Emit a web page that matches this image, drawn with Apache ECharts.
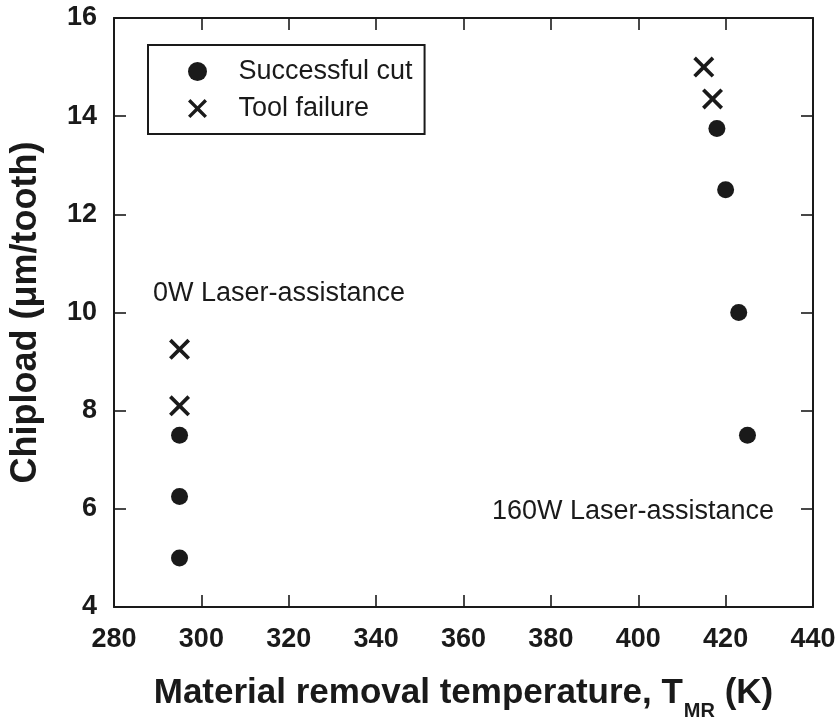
<!DOCTYPE html>
<html>
<head>
<meta charset="utf-8">
<script src="https://cdn.jsdelivr.net/npm/echarts@6/dist/echarts.min.js"></script>
<style>
  html, body { margin: 0; padding: 0; background: #fff; }
  #chart { width: 839px; height: 726px; }
</style>
</head>
<body>
<div id="chart"></div>
<script>
// ---- Data ----
const xTicks = [280, 300, 320, 340, 360, 380, 400, 420, 440];
const yTicks = [4, 6, 8, 10, 12, 14, 16];

// 0W laser assistance
const cut0W_T = [295, 295, 295];
const cut0W_C = [5, 6.25, 7.5];
const fail0W_T = [295, 295];
const fail0W_C = [8.1, 9.25];

// 160W laser assistance
const cut160W_T = [425, 423, 420, 418];
const cut160W_C = [7.5, 10, 12.5, 13.75];
const fail160W_T = [417, 415];
const fail160W_C = [14.35, 15];

const seriesNames = ['Successful cut', 'Tool failure'];
const annotations = ['0W Laser-assistance', '160W Laser-assistance'];

// ---- Build ----
const pair = (xs, ys) => xs.map((x, i) => [x, ys[i]]);
const cutData = pair(cut0W_T, cut0W_C).concat(pair(cut160W_T, cut160W_C));
const failData = pair(fail0W_T, fail0W_C).concat(pair(fail160W_T, fail160W_C));

const FONT = "'Liberation Sans', Arial, Helvetica, sans-serif";
const INK = '#1a1a1a';
const crossPath = 'path://M2.5,0 L10,7.5 L17.5,0 L20,2.5 L12.5,10 L20,17.5 L17.5,20 L10,12.5 L2.5,20 L0,17.5 L7.5,10 L0,2.5 Z';

const xMin = xTicks[0], xMax = xTicks[xTicks.length - 1], xInt = xTicks[1] - xTicks[0];
const yMin = yTicks[0], yMax = yTicks[yTicks.length - 1], yInt = yTicks[1] - yTicks[0];

const axisCommon = {
  axisLine: { show: true, onZero: false, lineStyle: { color: INK, width: 2 } },
  axisTick: { show: true, inside: true, length: 12, lineStyle: { color: INK, width: 1.6 } },
  splitLine: { show: false }
};

const chart = echarts.init(document.getElementById('chart'), null, { renderer: 'canvas' });
chart.setOption({
  animation: false,
  backgroundColor: '#fff',
  grid: { left: 114, right: 26, top: 18, bottom: 118 },
  xAxis: [
    Object.assign({}, axisCommon, {
      type: 'value', min: xMin, max: xMax, interval: xInt, position: 'bottom',
      axisLabel: { color: INK, fontFamily: FONT, fontWeight: 'bold', fontSize: 27, margin: 19 },
      name: '{a|Material removal temperature, T}{s|MR}{a| (K)}',
      nameLocation: 'middle', nameGap: 69,
      nameTextStyle: {
        rich: {
          a: { fontFamily: FONT, fontWeight: 'bold', fontSize: 35, color: INK, lineHeight: 40, verticalAlign: 'top' },
          s: { fontFamily: FONT, fontWeight: 'bold', fontSize: 20, color: INK, lineHeight: 20, padding: [25, 0, 0, 1], verticalAlign: 'top' }
        }
      }
    }),
    Object.assign({}, axisCommon, {
      type: 'value', min: xMin, max: xMax, interval: xInt, position: 'top',
      axisLabel: { show: false }
    })
  ],
  yAxis: [
    Object.assign({}, axisCommon, {
      type: 'value', min: yMin, max: yMax, interval: yInt, position: 'left',
      axisLabel: { color: INK, fontFamily: FONT, fontWeight: 'bold', fontSize: 27, margin: 17 },
      name: 'Chipload (μm/tooth)', nameLocation: 'middle', nameGap: 70,
      nameTextStyle: { fontFamily: FONT, fontWeight: 'bold', fontSize: 36, color: INK }
    }),
    Object.assign({}, axisCommon, {
      type: 'value', min: yMin, max: yMax, interval: yInt, position: 'right',
      axisLabel: { show: false }
    })
  ],
  legend: {
    orient: 'vertical',
    left: 148, top: 45,
    data: seriesNames,
    itemWidth: 72, itemHeight: 19, itemGap: 10,
    padding: [13, 12, 12, 40],
    borderColor: INK, borderWidth: 2, borderRadius: 0,
    textStyle: { fontFamily: FONT, fontSize: 27, color: INK, lineHeight: 27 }
  },
  series: [
    {
      name: seriesNames[0], type: 'scatter', data: cutData,
      symbol: 'circle', symbolSize: 17,
      itemStyle: { color: INK, opacity: 1 }
    },
    {
      name: seriesNames[1], type: 'scatter', data: failData,
      symbol: crossPath, symbolSize: 21, symbolKeepAspect: true,
      itemStyle: { color: INK, opacity: 1 }
    }
  ],
  graphic: [
    { type: 'text', left: 153, top: 280, style: { text: annotations[0], font: '27px ' + FONT, fill: INK } },
    { type: 'text', left: 492, top: 498, style: { text: annotations[1], font: '27px ' + FONT, fill: INK } }
  ]
});
</script>
</body>
</html>
